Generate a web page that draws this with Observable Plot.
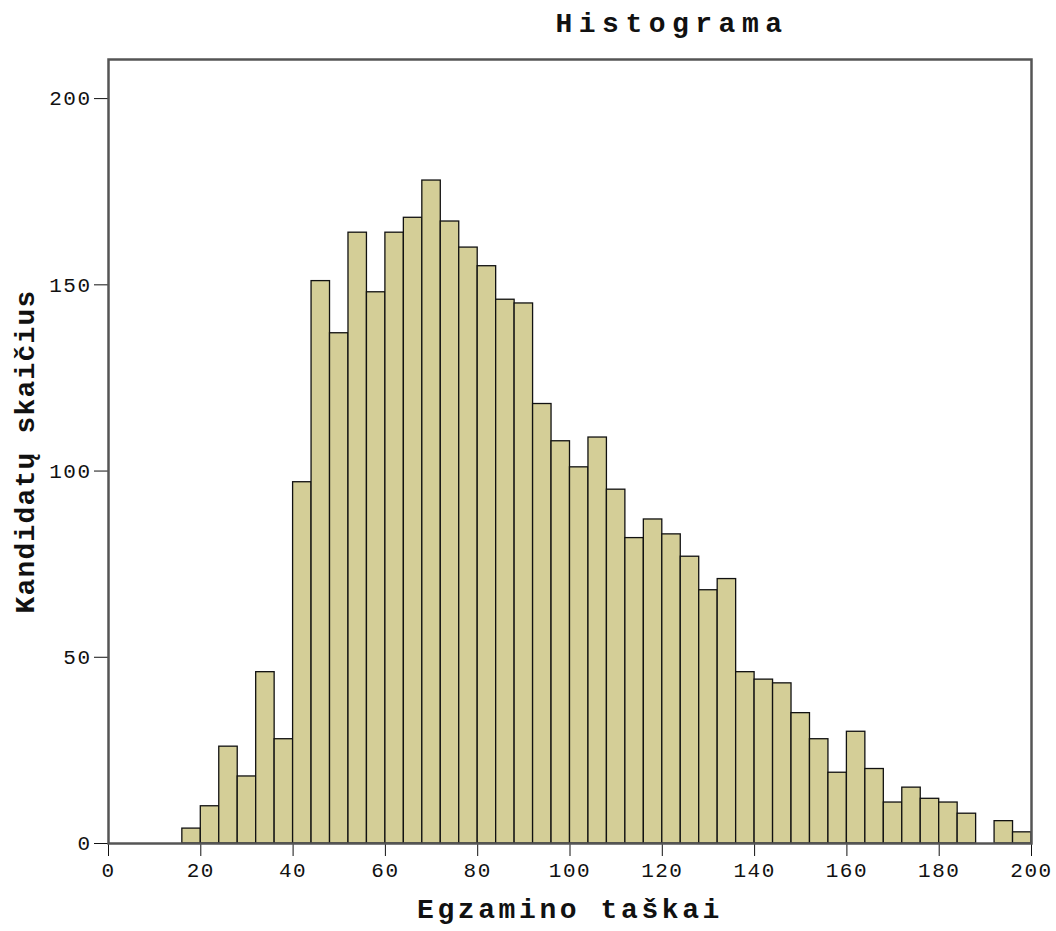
<!DOCTYPE html>
<html><head><meta charset="utf-8">
<script src="https://cdn.jsdelivr.net/npm/d3@7"></script>
<script src="https://cdn.jsdelivr.net/npm/@observablehq/plot@0.6"></script>
<style>
body{margin:0;background:#fff;}
#wrap{position:relative;width:1056px;height:931px;}
#title{position:absolute;left:0;top:9px;width:1344px;text-align:center;font-family:"Liberation Mono",monospace;font-weight:bold;font-size:28px;letter-spacing:6.5px;color:#111;line-height:32px;}
</style></head><body><div id="wrap"><div id="title">Histograma</div></div>
<script>
const binLower = [16,20,24,28,32,36,40,44,48,52,56,60,64,68,72,76,80,84,88,92,96,100,104,108,112,116,120,124,128,132,136,140,144,148,152,156,160,164,168,172,176,180,184,188,192,196];
const binWidth = 4;
const counts = [4,10,26,18,46,28,97,151,137,164,148,164,168,178,167,160,155,146,145,118,108,101,109,95,82,87,83,77,68,71,46,44,43,35,28,19,30,20,11,15,12,11,8,0,6,3];
const xTicks = [0,20,40,60,80,100,120,140,160,180,200];
const yTicks = [0,50,100,150,200];
const xTitle = "Egzamino taškai";
const yTitle = "Kandidatų skaičius";

const data = binLower.map((x, i) => ({x1: x, x2: x + binWidth, n: counts[i]}));

const chart = Plot.plot({
  width: 1056, height: 931,
  marginLeft: 108, marginRight: 25, marginTop: 59, marginBottom: 88,
  x: {domain: [0, 200]},
  y: {domain: [0, 210.5]},
  style: {fontFamily: "'Liberation Mono', monospace", fontSize: "21px", color: "#111", background: "#fff", letterSpacing: "1.5px"},
  marks: [
    Plot.rectY(data, {x1: "x1", x2: "x2", y: "n", fill: "#d4ce97", stroke: "#111", strokeWidth: 1.3}),
    Plot.axisX({ticks: xTicks, tickSize: 13, tickPadding: 6, label: null, stroke: "#111"}),
    Plot.axisY({ticks: yTicks, tickSize: 14, tickPadding: 3, label: null, stroke: "#111"}),
    Plot.frame({stroke: "#555", strokeWidth: 2.5}),
    Plot.text([xTitle], {text: d => d, frameAnchor: "bottom", dy: 74, textAnchor: "middle", fontSize: 28, fontWeight: "bold", fill: "#111"}),
    Plot.text([yTitle], {text: d => d, frameAnchor: "left", dx: -83, textAnchor: "middle", rotate: -90, fontSize: 28, fontWeight: "bold", fill: "#111"})
  ]
});
d3.select(chart).selectAll("text").each(function() {
  const t = this.textContent;
  if (t === xTitle) d3.select(this).style("letter-spacing", "3.6px");
  if (t === yTitle) d3.select(this).style("letter-spacing", "1.2px");
});
document.getElementById("wrap").appendChild(chart);
</script>
</body></html>
